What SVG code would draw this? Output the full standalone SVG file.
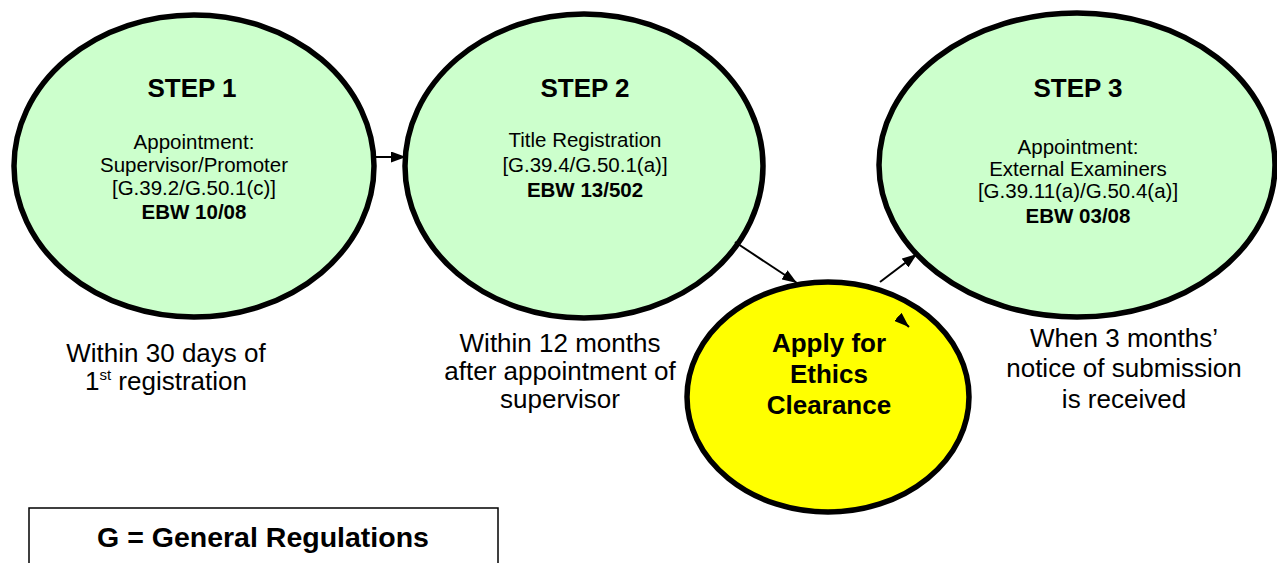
<svg xmlns="http://www.w3.org/2000/svg" width="1277" height="563" viewBox="0 0 1277 563">
<defs>
<style>
.step{fill:#CCFFCC;stroke:#000;stroke-width:5.5}
.eth{fill:#FFFF00;stroke:#000;stroke-width:5.5}
text{font-family:"Liberation Sans",Arial,sans-serif;fill:#000;text-anchor:middle}
.t{font-size:26px;font-weight:bold}
.r{font-size:20.5px}
.b{font-size:20.5px;font-weight:bold}
.e{font-size:26px;font-weight:bold}
.lbl{font-size:26px}
.conn{stroke:#000;stroke-width:2;fill:none;marker-end:url(#ah)}
</style>
<marker id="ah" viewBox="0 0 15 11" refX="15" refY="5.5" markerWidth="15" markerHeight="11" orient="auto" markerUnits="userSpaceOnUse">
<path d="M0,0 L15,5.5 L0,11 Z" fill="#000"/>
</marker>
</defs>
<rect width="1277" height="563" fill="#fff"/>
<g id="step1">
<ellipse class="step" cx="194" cy="166" rx="180" ry="151"/>
<text class="t" x="192" y="97">STEP 1</text>
<text class="r" x="194" y="149">Appointment:</text>
<text class="r" x="194" y="172">Supervisor/Promoter</text>
<text class="r" x="194" y="195">[G.39.2/G.50.1(c)]</text>
<text class="b" x="194" y="219">EBW 10/08</text>
</g>
<g id="step2">
<ellipse class="step" cx="584" cy="166" rx="179" ry="152"/>
<text class="t" x="585" y="97">STEP 2</text>
<text class="r" x="585" y="147">Title Registration</text>
<text class="r" x="585" y="172">[G.39.4/G.50.1(a)]</text>
<text class="b" x="585" y="197">EBW 13/502</text>
</g>
<g id="step3">
<ellipse class="step" cx="1077" cy="165" rx="198" ry="152"/>
<text class="t" x="1078" y="97">STEP 3</text>
<text class="r" x="1078" y="154">Appointment:</text>
<text class="r" x="1078" y="176">External Examiners</text>
<text class="r" x="1078" y="198">[G.39.11(a)/G.50.4(a)]</text>
<text class="b" x="1078" y="223">EBW 03/08</text>
</g>
<g id="ethics">
<ellipse class="eth" cx="828" cy="397" rx="141" ry="115"/>
<text class="e" x="829" y="352">Apply for</text>
<text class="e" x="829" y="383">Ethics</text>
<text class="e" x="829" y="414">Clearance</text>
</g>
<g id="label1">
<text class="lbl" x="166" y="362">Within 30 days of</text>
<text class="lbl" x="166" y="390">1<tspan font-size="15" dy="-10">st</tspan><tspan dy="10"> registration</tspan></text>
</g>
<g id="label2">
<text class="lbl" x="560" y="352">Within 12 months</text>
<text class="lbl" x="560" y="380">after appointment of</text>
<text class="lbl" x="560" y="408">supervisor</text>
</g>
<g id="label3">
<text class="lbl" x="1124" y="347">When 3 months’</text>
<text class="lbl" x="1124" y="377">notice of submission</text>
<text class="lbl" x="1124" y="408">is received</text>
</g>
<g id="legend">
<rect x="29" y="508" width="469" height="70" fill="none" stroke="#000" stroke-width="1.5"/>
<text x="263" y="547" style="font-size:28.5px;font-weight:bold">G = General Regulations</text>
</g>
<g id="connectors">
<line class="conn" x1="375" y1="157" x2="406" y2="157"/>
<line class="conn" x1="735" y1="242" x2="797" y2="283"/>
<line class="conn" x1="880" y1="282" x2="917" y2="254"/>
<line class="conn" x1="898" y1="317" x2="909" y2="327"/>
</g>
</svg>
